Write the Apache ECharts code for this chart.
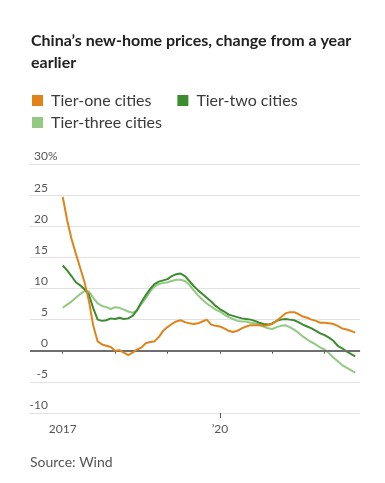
<!DOCTYPE html>
<html>
<head>
<meta charset="utf-8">
<script src="https://cdn.jsdelivr.net/npm/echarts@6/dist/echarts.min.js"></script>
<style>
html,body{margin:0;padding:0;background:#fff;}
#chart{width:385px;height:483px;}
</style>
</head>
<body>
<div id="chart"></div>
<script>
// Months since Jan 2017 (0 = Jan 2017 ... 67 = Aug 2022)
const months = Array.from({length: 68}, (_, i) => i);
const tierOne = [24.7,21.0,18.0,15.6,13.3,11.0,8.0,4.0,1.5,1.0,0.8,0.6,0.0,0.1,-0.3,-0.7,-0.3,0.2,0.5,1.2,
  1.4,1.5,2.2,3.2,3.8,4.3,4.7,4.9,4.6,4.4,4.3,4.4,4.7,5.0,4.2,4.0,3.9,3.6,3.2,3.0,
  3.2,3.6,3.9,4.1,4.1,4.1,4.0,4.1,4.3,4.8,5.4,6.0,6.2,6.2,5.9,5.5,5.3,5.0,4.8,4.5,
  4.5,4.4,4.3,4.0,3.6,3.4,3.2,2.9];
const tierTwo = [13.7,12.9,12.0,11.0,10.5,9.9,9.0,6.8,5.0,4.8,4.9,5.2,5.1,5.3,5.1,5.2,5.6,6.5,7.8,8.9,
  9.9,10.7,11.1,11.3,11.5,12.0,12.3,12.4,12.0,11.2,10.4,9.7,9.1,8.5,7.9,7.2,6.7,6.3,5.8,5.6,
  5.4,5.2,5.1,5.0,4.8,4.5,4.3,4.2,4.4,4.8,5.0,5.1,5.0,4.9,4.6,4.2,3.9,3.6,3.2,2.8,
  2.5,2.1,1.6,0.8,0.4,-0.1,-0.5,-0.9];
const tierThree = [6.9,7.4,7.9,8.5,9.1,9.6,9.5,8.5,7.6,7.2,7.0,6.7,7.0,6.9,6.6,6.3,6.1,6.5,7.5,8.4,
  9.5,10.3,10.7,10.9,11.0,11.2,11.4,11.4,11.2,10.6,9.7,8.9,8.2,7.6,7.1,6.6,6.3,5.8,5.4,5.1,
  4.8,4.7,4.7,4.5,4.4,4.2,3.9,3.6,3.5,3.8,4.0,4.1,3.8,3.4,2.9,2.3,1.8,1.4,1.0,0.5,
  0.2,-0.4,-1.1,-1.7,-2.3,-2.7,-3.1,-3.5];
const yearTicks = [0, 12, 24, 36, 48, 60];
const labelTicks = [0, 36];
const tickLabels = {0: '2017', 36: '’20'};
const seriesNames = ['Tier-one cities', 'Tier-two cities', 'Tier-three cities'];

const colors = ['#e0841a', '#3d8b2f', '#93c983'];
const pair = arr => months.map((m, i) => [m, arr[i]]);

const chart = echarts.init(document.getElementById('chart'), null, {renderer: 'canvas'});
const FONT = 'Lato, "Noto Sans", sans-serif';
chart.setOption({
  animation: false,
  color: colors,
  title: [{
    text: 'China’s new-home prices, change from a year\nearlier',
    left: 31, top: 30, padding: 0,
    textStyle: {fontFamily: FONT, fontWeight: 'bold', fontSize: 16, color: '#222', lineHeight: 22}
  }, {
    text: 'Source: Wind',
    left: 30, top: 454, padding: 0,
    textStyle: {fontFamily: FONT, fontWeight: 'normal', fontSize: 14, color: '#555', lineHeight: 16}
  }],
  legend: [{
    data: [seriesNames[0], seriesNames[1]],
    left: 32, top: 92, padding: 0, icon: 'rect', itemWidth: 11, itemHeight: 11, itemGap: 26,
    textStyle: {fontFamily: FONT, fontSize: 16, color: '#3a3a3a', padding: [0,0,0,3], lineHeight: 17}
  }, {
    data: [seriesNames[2]],
    left: 32, top: 114, padding: 0, icon: 'rect', itemWidth: 11, itemHeight: 11,
    textStyle: {fontFamily: FONT, fontSize: 16, color: '#3a3a3a', padding: [0,0,0,3], lineHeight: 17}
  }],
  grid: {left: 30, right: 25, top: 164, bottom: 70, containLabel: false},
  xAxis: [{
    type: 'value', min: -7.5, max: 68.1,
    splitLine: {show: false},
    axisLine: {show: true, lineStyle: {color: '#d4d4d4', width: 1}},
    axisTick: {show: true, customValues: yearTicks, length: 3, lineStyle: {color: '#555'}},
    axisLabel: {show: true, customValues: labelTicks, formatter: v => tickLabels[v] || '',
      fontFamily: FONT, fontSize: 12, color: '#555', margin: 10}
  }, {
    type: 'value', min: -7.5, max: 68.1, position: 'bottom',
    splitLine: {show: false}, axisLine: {show: false}, axisLabel: {show: false},
    axisTick: {show: true, customValues: [36], length: 5, lineStyle: {color: '#555'}}
  }],
  yAxis: {
    type: 'value', min: -10, max: 30, interval: 5,
    axisLine: {show: false}, axisTick: {show: false},
    splitLine: {show: true, lineStyle: {color: '#e2e2e2', width: 1}},
    axisLabel: {margin: -18, verticalAlign: 'bottom', fontFamily: FONT, fontSize: 12, color: '#555',
      lineHeight: 15, formatter: v => String(v)}
  },
  graphic: [{
    type: 'text', left: 48, top: 150,
    style: {text: '%', fontFamily: FONT, fontSize: 12, fill: '#555'}
  }],
  series: [{
    name: 'zero', type: 'line', data: [], z: 1, silent: true,
    markLine: {silent: true, symbol: ['none', 'none'], label: {show: false},
      lineStyle: {color: '#6e6e6e', width: 2, type: 'solid'}, data: [{yAxis: 0}]}
  }, {
    name: seriesNames[0], type: 'line', data: pair(tierOne), showSymbol: false, z: 5,
    lineStyle: {width: 2, color: colors[0]}, itemStyle: {color: colors[0]}
  }, {
    name: seriesNames[1], type: 'line', data: pair(tierTwo), showSymbol: false, z: 4,
    lineStyle: {width: 2, color: colors[1]}, itemStyle: {color: colors[1]}
  }, {
    name: seriesNames[2], type: 'line', data: pair(tierThree), showSymbol: false, z: 3,
    lineStyle: {width: 2, color: colors[2]}, itemStyle: {color: colors[2]}
  }]
});
</script>
</body>
</html>
